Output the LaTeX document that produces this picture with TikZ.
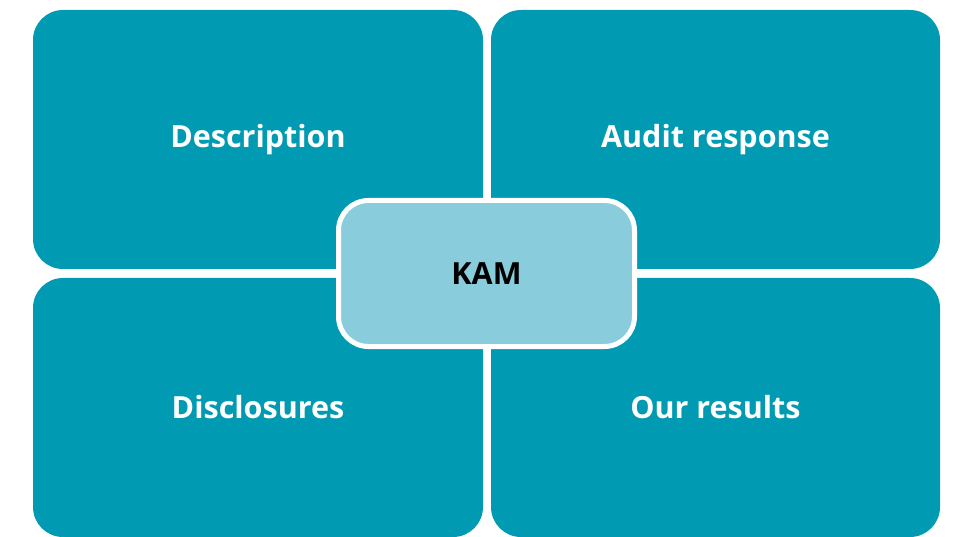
\documentclass[tikz,border=0pt]{standalone}
\usepackage{fontspec}
\setmainfont{Open Sans}
\usepackage{xcolor}
\definecolor{kamteal}{HTML}{009BB3}
\definecolor{kamlight}{HTML}{89CDDC}
\tikzset{
	part/.style={fill=kamteal,rounded corners=30pt,text=white,font=\bfseries\fontsize{30.5}{34}\selectfont},
	kambox/.style={fill=kamlight,draw=white,line width=5pt,rounded corners=30pt,font=\bfseries\fontsize{30.5}{34}\selectfont,minimum width=296pt,minimum height=146pt}
}
\begin{document}
\begin{tikzpicture}[x=1pt,y=-1pt]
		\useasboundingbox(0,0)rectangle(958,537);
		\node[part,minimum width=450pt,minimum height=259pt](desc)at(258,139.5){Description};
		\node[part,minimum width=449pt,minimum height=259pt](resp)at(715.5,139.5){Audit response};
		\node[part,minimum width=450pt,minimum height=259pt](discl)at(258,407.5){Disclosures};
		\node[part,minimum width=449pt,minimum height=259pt](res)at(715.5,407.5){Our results};
		\node[kambox](kam)at(486.5,273.5){KAM};
		\end{tikzpicture}
\end{document}
